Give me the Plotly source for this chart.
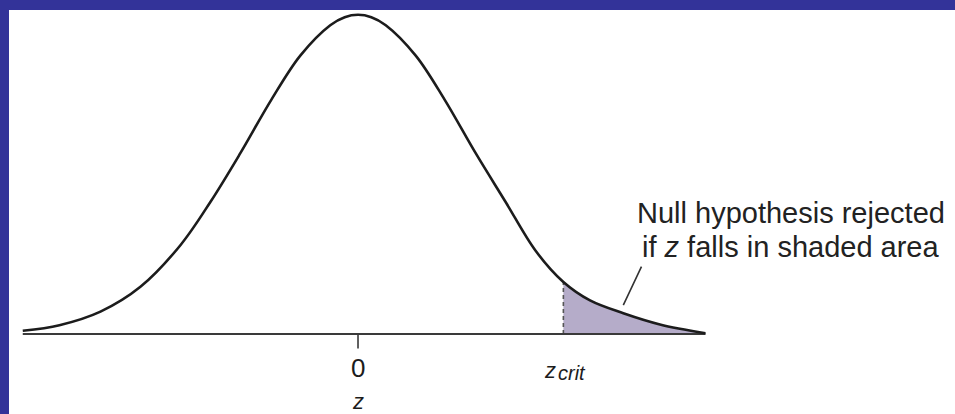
import plotly.graph_objects as go

# ---- data (z scores and curve height) ----
z_values = [-3.02, -2.69, -2.32, -1.96, -1.60, -1.33, -1.06, -0.78, -0.52, -0.25, -0.12, 0.0,
            0.12, 0.25, 0.52, 0.78, 1.06, 1.33, 1.60, 1.85, 2.09, 2.39, 2.72, 3.13]
density = [0.004, 0.011, 0.028, 0.059, 0.111, 0.165, 0.226, 0.293, 0.348, 0.386, 0.396, 0.399,
           0.396, 0.386, 0.348, 0.293, 0.226, 0.165, 0.104, 0.065, 0.042, 0.026, 0.012, 0.001]
z_crit = 1.85
tick_labels = ["0"]
tick_positions = [0.0]
axis_title = "z"
note_lines = ["Null hypothesis rejected", "if <i>z</i> falls in shaded area"]

BLUE = "#333399"
INK = "#1c1c1c"
SHADE = "#b5acc9"
FONT = "Liberation Sans, Arial, Helvetica, sans-serif"

crit_idx = z_values.index(z_crit)
tail_x = z_values[crit_idx:]
tail_y = density[crit_idx:]

fig = go.Figure()

# shaded rejection region
fig.add_trace(go.Scatter(x=tail_x, y=tail_y, mode="lines", line=dict(color=SHADE, width=0, shape="spline"),
                         fill="tozeroy", fillcolor=SHADE, hoverinfo="skip"))
# dashed boundary at z_crit
fig.add_trace(go.Scatter(x=[z_crit, z_crit], y=[0, density[crit_idx]], mode="lines",
                         line=dict(color="#555555", width=1.6, dash="4px,3px"), hoverinfo="skip"))
# baseline axis
fig.add_trace(go.Scatter(x=[z_values[0], z_values[-1]], y=[0, 0], mode="lines",
                         line=dict(color="#3a3a3a", width=2), hoverinfo="skip"))
# tick mark at 0
for tp in tick_positions:
    fig.add_trace(go.Scatter(x=[tp, tp], y=[0, -0.018], mode="lines",
                             line=dict(color="#3a3a3a", width=1.6), hoverinfo="skip"))
# normal curve
fig.add_trace(go.Scatter(x=z_values, y=density, mode="lines",
                         line=dict(color=INK, width=2.6, shape="spline", smoothing=1.0), hoverinfo="skip"))

annotations = []
for tp, tl in zip(tick_positions, tick_labels):
    annotations.append(dict(x=tp, y=-0.0425, text=tl, showarrow=False, xanchor="center", yanchor="middle",
                            font=dict(family=FONT, size=26, color=INK)))
annotations.append(dict(x=0.0, y=-0.0844, text="<i>" + axis_title + "</i>", showarrow=False,
                        xanchor="center", yanchor="middle", font=dict(family=FONT, size=22, color=INK)))
annotations.append(dict(x=z_crit - 0.12, y=-0.0460, text="<i>z</i>", showarrow=False,
                        xanchor="center", yanchor="middle", font=dict(family=FONT, size=22, color=INK)))
annotations.append(dict(x=z_crit + 0.075, y=-0.0490, text="<i>crit</i>", showarrow=False,
                        xanchor="center", yanchor="middle", font=dict(family=FONT, size=20, color=INK)))
annotations.append(dict(x=3.90, y=0.151, text=note_lines[0], showarrow=False, xanchor="center",
                        yanchor="middle", font=dict(family=FONT, size=29, color="#222222")))
annotations.append(dict(x=3.90, y=0.109, text=note_lines[1], showarrow=False, xanchor="center",
                        yanchor="middle", font=dict(family=FONT, size=29, color="#222222")))
# leader line from note to shaded area
annotations.append(dict(x=2.39, y=0.036, ax=2.56, ay=0.086, axref="x", ayref="y", text="",
                        showarrow=True, arrowhead=0, arrowwidth=1.6, arrowcolor="#333333"))

fig.update_layout(
    width=955, height=414,
    margin=dict(l=9, r=0, t=10, b=0),
    paper_bgcolor=BLUE, plot_bgcolor="white",
    showlegend=False,
    xaxis=dict(range=[-3.144, 5.378], visible=False, fixedrange=True),
    yaxis=dict(range=[-0.1, 0.405], visible=False, fixedrange=True),
    annotations=annotations,
)

fig.write_html("out.html", config={"displayModeBar": False},
               post_script="document.body.style.margin='0';document.body.style.overflow='hidden';")
